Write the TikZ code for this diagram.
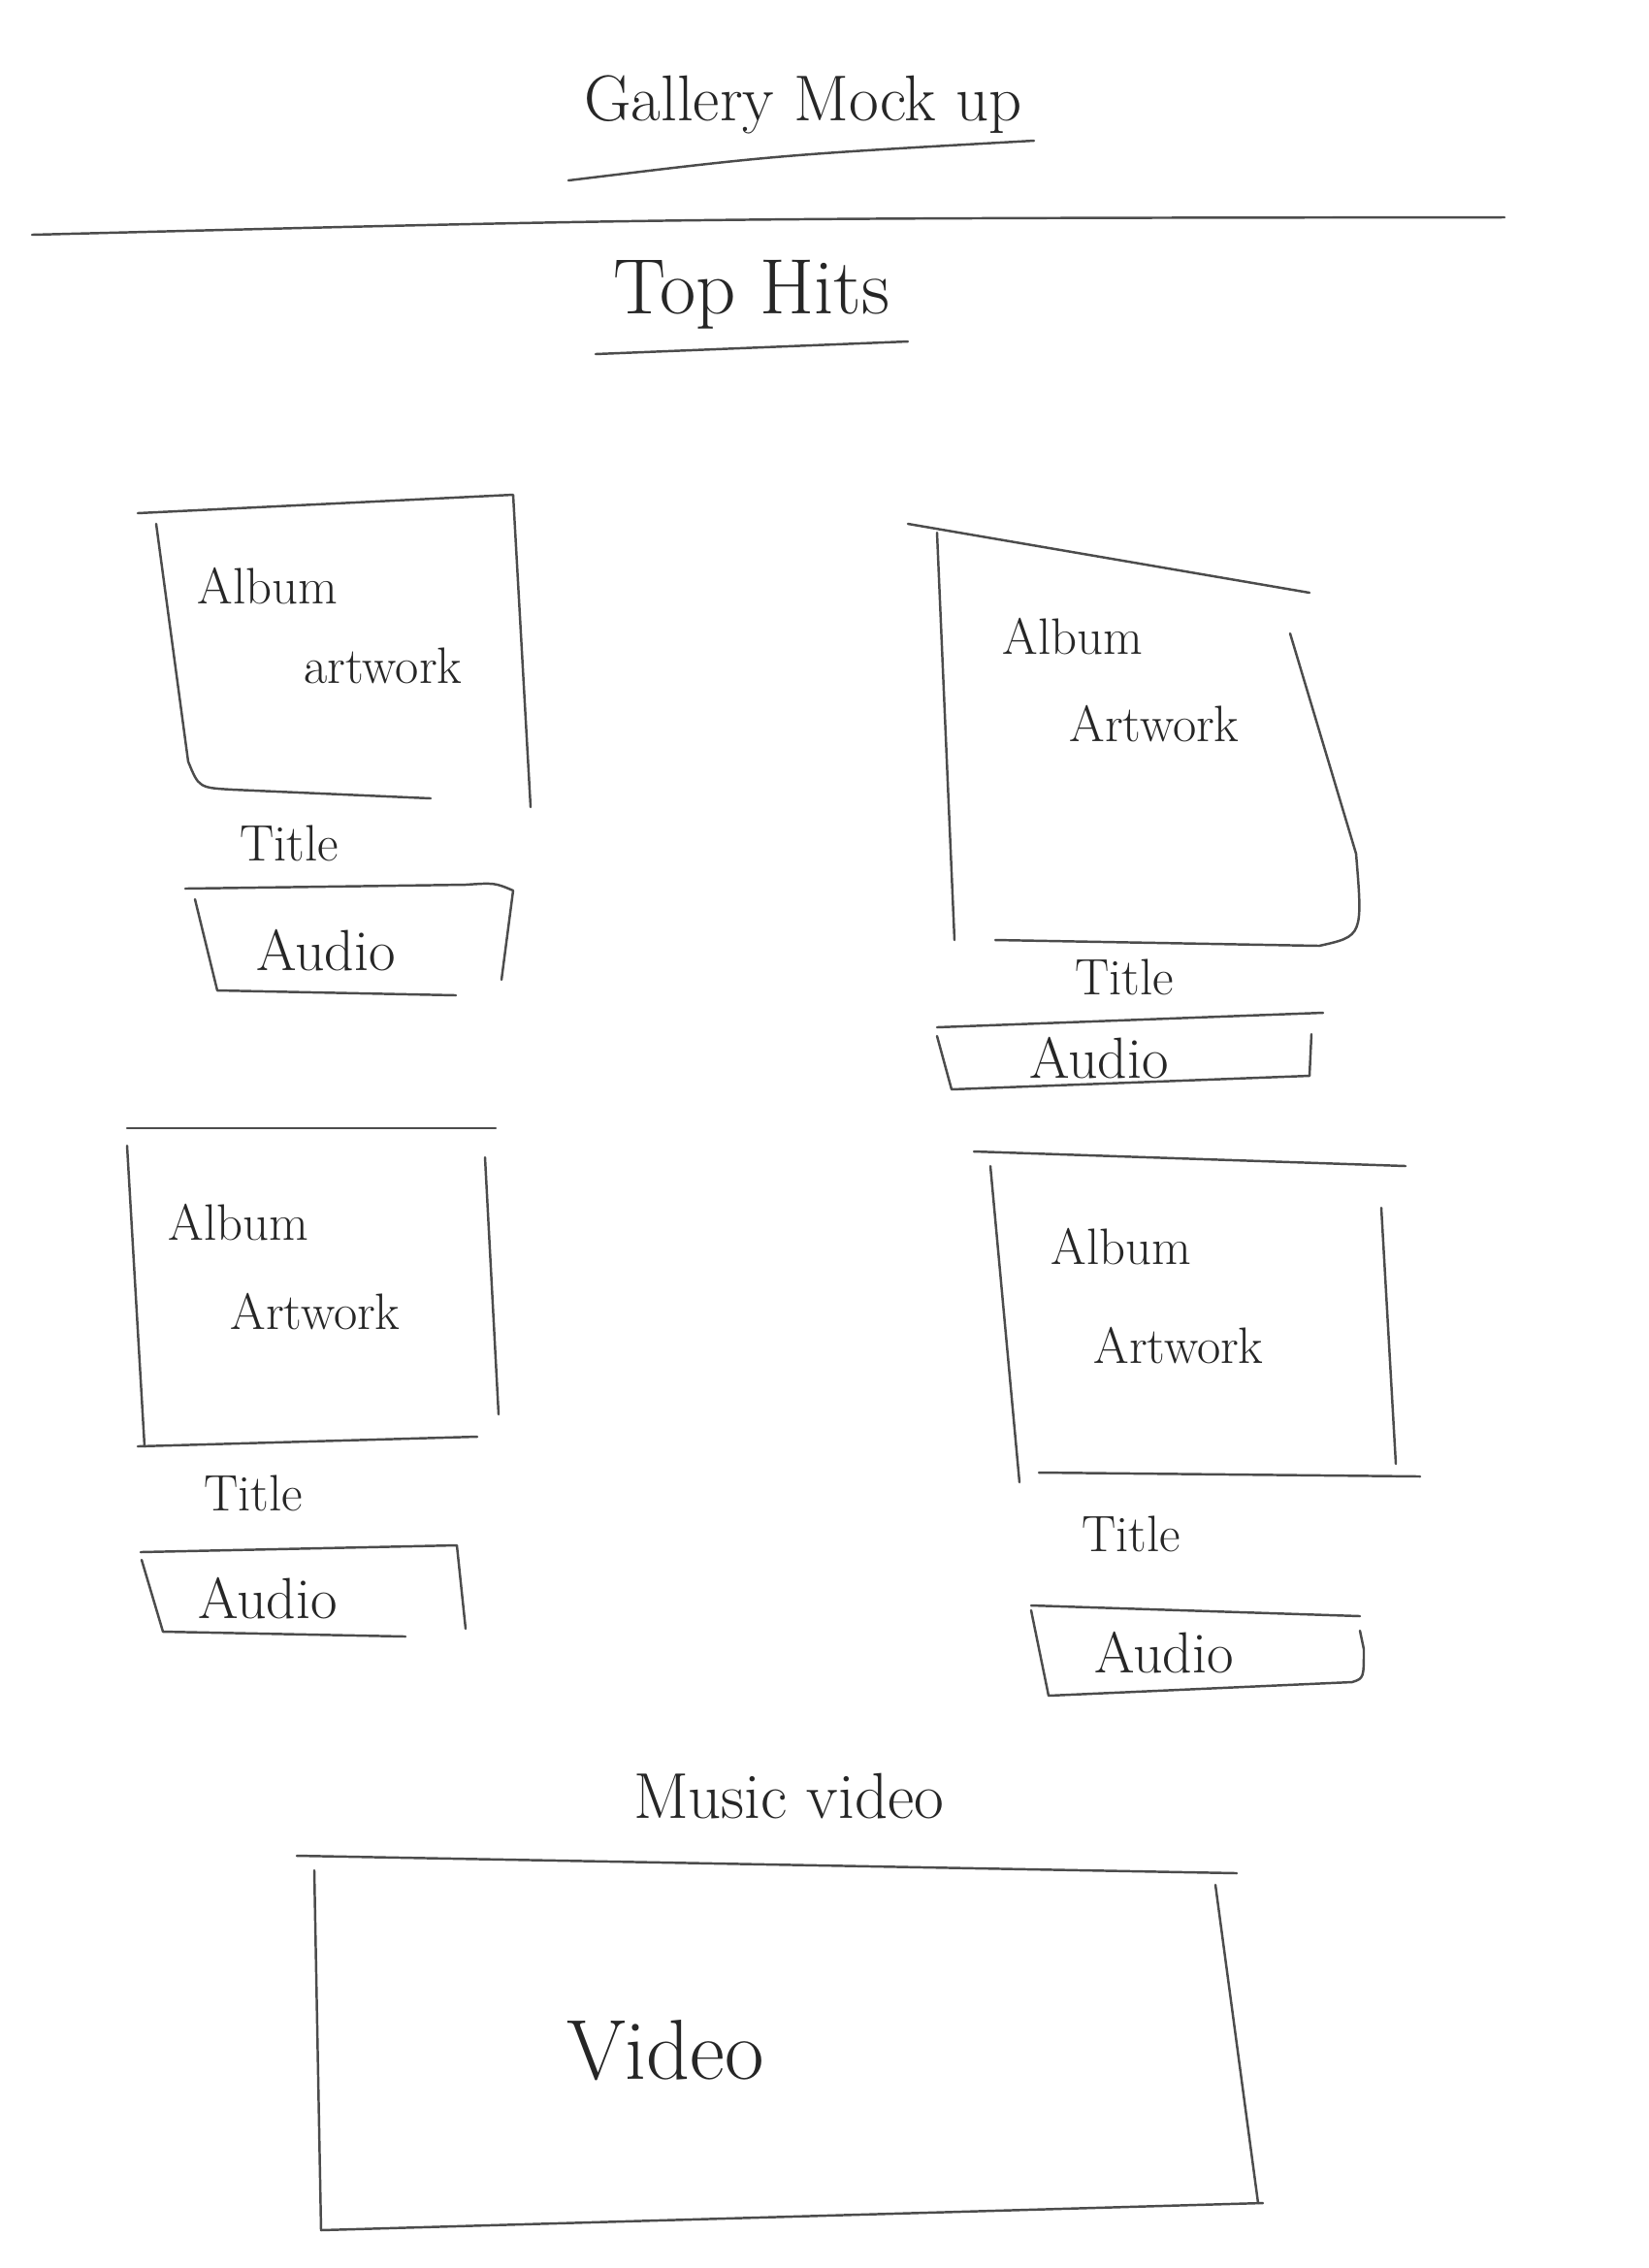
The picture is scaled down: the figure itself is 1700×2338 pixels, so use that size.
\documentclass[tikz,border=0pt]{standalone}
\usepackage{tikz}

\tikzset{
  pencil/.style={draw=black!70,line width=0.7pt,line cap=round,line join=round},
  hand/.style={inner sep=0pt,text=black!85}
}

\begin{document}
\begin{tikzpicture}[x=0.01cm,y=-0.01cm]

\fill[white] (0,0) rectangle (1700,2338);
\useasboundingbox (0,0) rectangle (1700,2338);

% heading
\node[hand,font=\fontsize{19}{22}\selectfont] (head) at (828,108) {Gallery Mock up};
\draw[pencil] (586,186) .. controls (800,160) .. (1066,145);
\draw[pencil] (33,242) .. controls (700,225) .. (1551,224);
\node[hand,font=\fontsize{23}{26}\selectfont] (tophits) at (775,304) {Top Hits};
\draw[pencil] (614,365) -- (936,352);

% first box
\draw[pencil] (142,529) -- (529,510) -- (547,832);
\draw[pencil] (161,540) -- (194,785) .. controls (205,812) .. (240,814) -- (444,823);
\node[hand,font=\fontsize{15}{18}\selectfont] (albumA) at (276,604) {Album};
\node[hand,font=\fontsize{15}{18}\selectfont] (artA) at (395,686) {artwork};
\node[hand,font=\fontsize{15}{18}\selectfont] (titleA) at (298,869) {Title};
\draw[pencil] (191,916) -- (480,912) .. controls (510,910) .. (529,918) -- (517,1010);
\draw[pencil] (201,927) -- (224,1021) -- (470,1026);
\node[hand,font=\fontsize{17}{20}\selectfont] (audioA) at (336,980) {Audio};

% second box
\draw[pencil] (936,540) -- (1350,611);
\draw[pencil] (966,549) -- (984,969);
\draw[pencil] (1330,653) -- (1398,880) .. controls (1405,965) .. (1360,975) -- (1026,969);
\node[hand,font=\fontsize{15}{18}\selectfont] (albumB) at (1106,656) {Album};
\node[hand,font=\fontsize{15}{18}\selectfont] (artB) at (1190,746) {Artwork};
\node[hand,font=\fontsize{15}{18}\selectfont] (titleB) at (1159,1007) {Title};
\draw[pencil] (966,1059) -- (1364,1044);
\draw[pencil] (966,1068) -- (981,1123) -- (1350,1109) -- (1352,1066);
\node[hand,font=\fontsize{17}{20}\selectfont] (audioB) at (1133,1091) {Audio};

% third box
\draw[pencil] (131,1163) -- (511,1163);
\draw[pencil] (131,1181) -- (149,1491);
\draw[pencil] (142,1491) -- (492,1481);
\draw[pencil] (500,1193) -- (514,1458);
\node[hand,font=\fontsize{15}{18}\selectfont] (albumC) at (246,1260) {Album};
\node[hand,font=\fontsize{15}{18}\selectfont] (artC) at (325,1352) {Artwork};
\node[hand,font=\fontsize{15}{18}\selectfont] (titleC) at (261,1539) {Title};
\draw[pencil] (145,1600) -- (471,1593) -- (480,1679);
\draw[pencil] (146,1608) -- (168,1682) -- (418,1687);
\node[hand,font=\fontsize{17}{20}\selectfont] (audioC) at (276,1648) {Audio};

% fourth box
\draw[pencil] (1004,1187) -- (1449,1202);
\draw[pencil] (1021,1202) -- (1051,1528);
\draw[pencil] (1424,1245) -- (1439,1509);
\draw[pencil] (1071,1518) -- (1464,1522);
\node[hand,font=\fontsize{15}{18}\selectfont] (albumD) at (1156,1285) {Album};
\node[hand,font=\fontsize{15}{18}\selectfont] (artD) at (1215,1387) {Artwork};
\node[hand,font=\fontsize{15}{18}\selectfont] (titleD) at (1166,1581) {Title};
\draw[pencil] (1063,1655) -- (1402,1666);
\draw[pencil] (1063,1660) -- (1081,1748) -- (1394,1734) .. controls (1406,1730) .. (1406,1700) -- (1402,1681);
\node[hand,font=\fontsize{17}{20}\selectfont] (audioD) at (1200,1704) {Audio};

% video
\node[hand,font=\fontsize{19}{22}\selectfont] (music) at (813,1852) {Music video};
\draw[pencil] (306,1913) -- (1275,1931);
\draw[pencil] (324,1928) -- (331,2299) -- (1302,2271);
\draw[pencil] (1253,1943) -- (1297,2271);
\node[hand,font=\fontsize{25}{28}\selectfont] (video) at (686,2114) {Video};

\end{tikzpicture}
\end{document}
